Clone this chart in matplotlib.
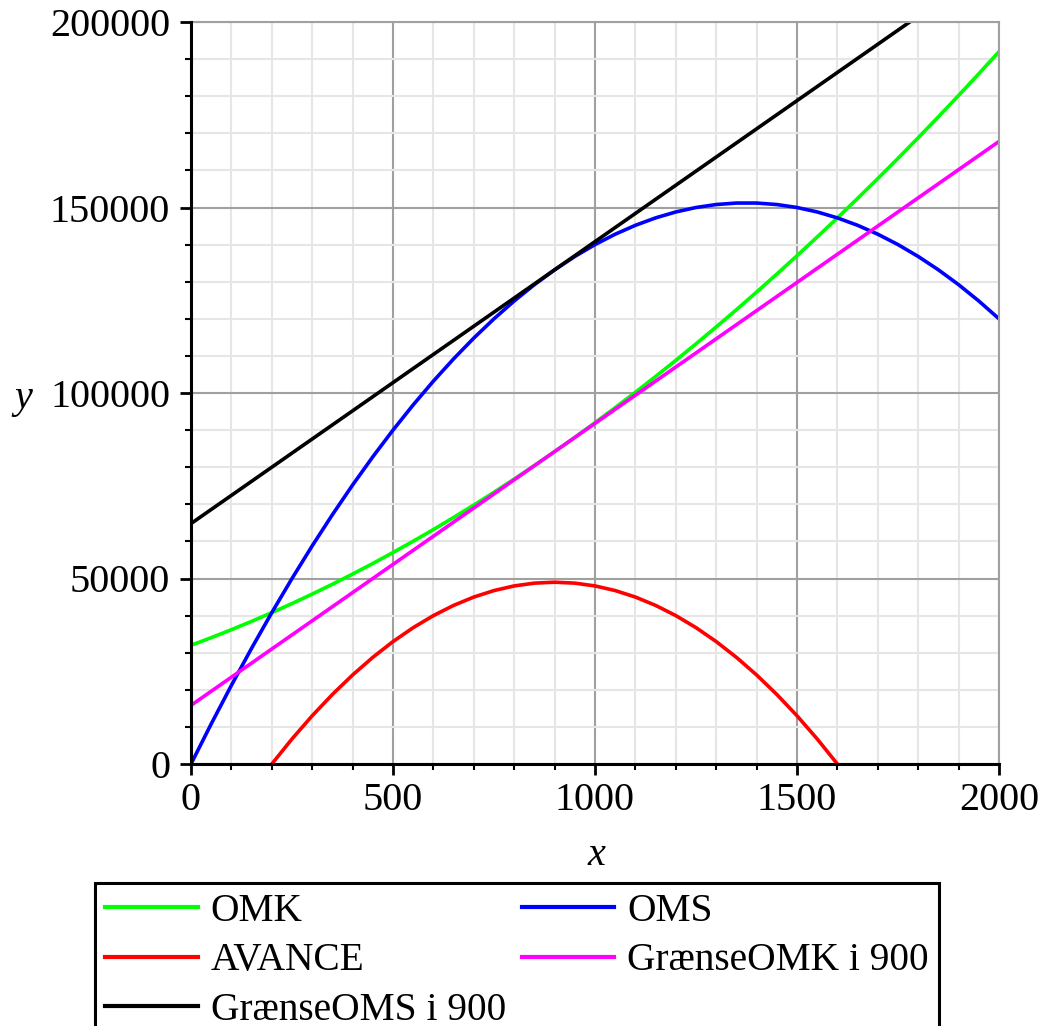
import matplotlib
matplotlib.use('Agg')
import matplotlib.pyplot as plt
from matplotlib.ticker import MultipleLocator

# values, every 50 on x
x = list(range(0, 2001, 50))
omk = [32000, 34050, 36200, 38450, 40800, 43250, 45800, 48450, 51200, 54050,
       57000, 60050, 63200, 66450, 69800, 73250, 76800, 80450, 84200, 88050,
       92000, 96050, 100200, 104450, 108800, 113250, 117800, 122450, 127200, 132050,
       137000, 142050, 147200, 152450, 157800, 163250, 168800, 174450, 180200, 186050,
       192000]
oms = [0, 10800, 21200, 31200, 40800, 50000, 58800, 67200, 75200, 82800,
       90000, 96800, 103200, 109200, 114800, 120000, 124800, 129200, 133200, 136800,
       140000, 142800, 145200, 147200, 148800, 150000, 150800, 151200, 151200, 150800,
       150000, 148800, 147200, 145200, 142800, 140000, 136800, 133200, 129200, 124800,
       120000]
avance_x = list(range(200, 1601, 50))
avance = [0, 6750, 13000, 18750, 24000, 28750, 33000, 36750, 40000, 42750,
          45000, 46750, 48000, 48750, 49000, 48750, 48000, 46750, 45000, 42750,
          40000, 36750, 33000, 28750, 24000, 18750, 13000, 6750, 0]
# tangent lines at x = 900 (end points)
line_x = [0, 2000]
graense_omk = [15800, 167800]
graense_oms = [64800, 216800]

plt.rcParams['font.family'] = ['Liberation Serif', 'DejaVu Serif']
plt.rcParams['mathtext.fontset'] = 'custom'
plt.rcParams['mathtext.it'] = 'Liberation Serif:italic'

fs = 29
fig = plt.figure(figsize=(10.4, 10.26), dpi=100)
ax = fig.add_axes([191 / 1040, 1 - 764 / 1026, 808 / 1040, 742 / 1026])

lw = 2.6
l_omk, = ax.plot(x, omk, color='#00ff00', lw=lw, label='OMK')
l_oms, = ax.plot(x, oms, color='#0000ff', lw=lw, label='OMS')
l_av, = ax.plot(avance_x, avance, color='#ff0000', lw=lw, label='AVANCE')
l_gk, = ax.plot(line_x, graense_omk, color='#ff00ff', lw=lw, label='GrænseOMK i 900')
l_gs, = ax.plot(line_x, graense_oms, color='black', lw=lw, label='GrænseOMS i 900')

ax.set_xlim(0, 2000)
ax.set_ylim(0, 200000)
ax.xaxis.set_major_locator(MultipleLocator(500))
ax.xaxis.set_minor_locator(MultipleLocator(100))
ax.yaxis.set_major_locator(MultipleLocator(50000))
ax.yaxis.set_minor_locator(MultipleLocator(10000))

ax.grid(which='minor', color='#e6e6e6', lw=1.5, zorder=0)
ax.grid(which='major', color='#a0a0a0', lw=1.5, zorder=0)
ax.set_axisbelow(True)

for s in ['left', 'bottom']:
    ax.spines[s].set_linewidth(2.2)
    ax.spines[s].set_zorder(5)
for s in ['top', 'right']:
    ax.spines[s].set_color('#a0a0a0')
    ax.spines[s].set_linewidth(1.5)

ax.tick_params(which='major', direction='out', length=8, width=2, labelsize=fs)
ax.tick_params(which='minor', direction='out', length=4.5, width=1.5)
ax.tick_params(axis='x', pad=5)
ax.tick_params(axis='y', pad=7)
ax.tick_params(which='both', top=False, right=False)

ax.set_xlabel('$x$', fontsize=fs)
ax.xaxis.set_label_coords(0.5025, -0.123)
ax.xaxis.label.set_va('center')
ax.set_ylabel('$y$', fontsize=fs, rotation=0)
ax.yaxis.set_label_coords(-0.208, 0.49)
ax.yaxis.label.set_va('center')
ax.yaxis.label.set_ha('center')

leg = fig.legend(handles=[l_omk, l_av, l_gs, l_oms, l_gk], ncol=2,
                 loc='upper left', bbox_to_anchor=(95 / 1040, 1 - 883 / 1026),
                 bbox_transform=fig.transFigure, borderaxespad=0,
                 fontsize=28.4, frameon=True, fancybox=False, edgecolor='black',
                 framealpha=1, handlelength=2.35, handletextpad=0.33,
                 columnspacing=0.4, borderpad=0.25, labelspacing=0.32)
leg.get_frame().set_linewidth(2.2)
for h in leg.get_lines():
    h.set_linewidth(3)

fig.savefig('out.png', dpi=100)
